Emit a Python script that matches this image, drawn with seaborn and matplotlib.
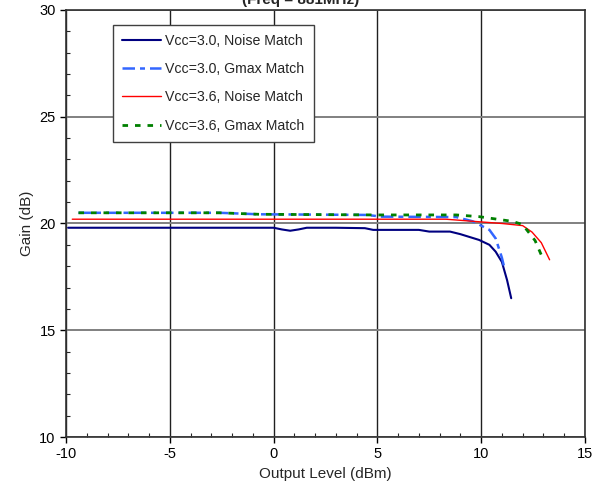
import numpy as np
import pandas as pd
import seaborn as sns
import matplotlib.pyplot as plt
from matplotlib.ticker import MultipleLocator

# gain vs output level
navy_x = [-9.9, -5, 0, 0.4, 0.8, 1.2, 1.6, 3, 4.4, 4.8, 5.5, 7.0, 7.5, 8.5, 9.0, 9.4, 9.9, 10.4, 10.7, 11.0, 11.25, 11.45]
navy_y = [19.8, 19.8, 19.8, 19.72, 19.66, 19.72, 19.8, 19.8, 19.78, 19.7, 19.7, 19.7, 19.62, 19.62, 19.5, 19.38, 19.23, 19.0, 18.68, 18.2, 17.35, 16.5]

blue_x = [-9.4, -2.6, -0.7, 4.5, 5.2, 8.8, 9.6, 10.4, 10.7, 11.0, 11.1]
blue_y = [20.5, 20.5, 20.43, 20.4, 20.32, 20.3, 20.1, 19.7, 19.3, 18.4, 18.0]

red_x = [-9.7, 0, 8.3, 9.9, 11.0, 12.0, 12.45, 12.9, 13.3]
red_y = [20.2, 20.2, 20.2, 20.08, 20.0, 19.9, 19.6, 19.1, 18.3]

green_x = [-9.4, -2.6, -0.7, 5, 8.8, 9.9, 11.5, 12.0, 12.6, 13.0]
green_y = [20.5, 20.5, 20.43, 20.4, 20.4, 20.32, 20.1, 19.95, 19.2, 18.3]

labels = ['Vcc=3.0, Noise Match', 'Vcc=3.0, Gmax Match', 'Vcc=3.6, Noise Match', 'Vcc=3.6, Gmax Match']

sns.set_style('white')
plt.rcParams['font.family'] = ['Liberation Sans', 'DejaVu Sans']
plt.rcParams['axes.unicode_minus'] = False

fig = plt.figure(figsize=(5.95, 4.97), dpi=100)
ax = fig.add_axes([0.111, 0.1207, 0.872, 0.8593])

series = [
    (navy_x, navy_y, '#000080', 1.5, ''),
    (blue_x, blue_y, '#3366FF', 1.8, (5, 2, 2, 2)),
    (red_x, red_y, '#FF0000', 1.0, ''),
    (green_x, green_y, '#008000', 2.0, (2, 2.5)),
]
for (xs, ys, c, lw, dash), lab in zip(series, labels):
    df = pd.DataFrame({'x': xs, 'y': ys})
    line = sns.lineplot(data=df, x='x', y='y', ax=ax, color=c, linewidth=lw, label=lab)
    if dash:
        line.lines[-1].set_dashes(dash)

ax.set_xlim(-10, 15)
ax.set_ylim(10, 30)
ax.xaxis.set_major_locator(MultipleLocator(5))
ax.yaxis.set_major_locator(MultipleLocator(5))
ax.xaxis.set_minor_locator(MultipleLocator(1))
ax.yaxis.set_minor_locator(MultipleLocator(1))
ax.tick_params(which='major', direction='out', length=4, width=1, labelsize=10.5, colors='black', bottom=True, left=True)
ax.tick_params(which='minor', direction='in', length=3, width=0.8, bottom=True, left=True)
ax.grid(True, axis='x', which='major', color='#202020', linewidth=1.0)
ax.grid(True, axis='y', which='major', color='#808080', linewidth=1.4)
for s in ax.spines.values():
    s.set_color('#303030')
    s.set_linewidth(1.2)

ax.set_xlabel('Output Level (dBm)', fontsize=11)
ax.set_ylabel('Gain (dB)', fontsize=11)

leg = ax.legend(loc='upper left', bbox_to_anchor=(0.0906, 0.965), borderaxespad=0, fontsize=10.2,
                handlelength=2.7, handletextpad=0.35, labelspacing=1.0, borderpad=0.65,
                fancybox=False, framealpha=1, edgecolor='#404040')
leg.get_frame().set_linewidth(1.0)

fig.text(0.505, 0.992, '(Freq = 881MHz)', ha='center', va='baseline', fontsize=11, fontweight='bold')

plt.savefig('out.png', dpi=100)
